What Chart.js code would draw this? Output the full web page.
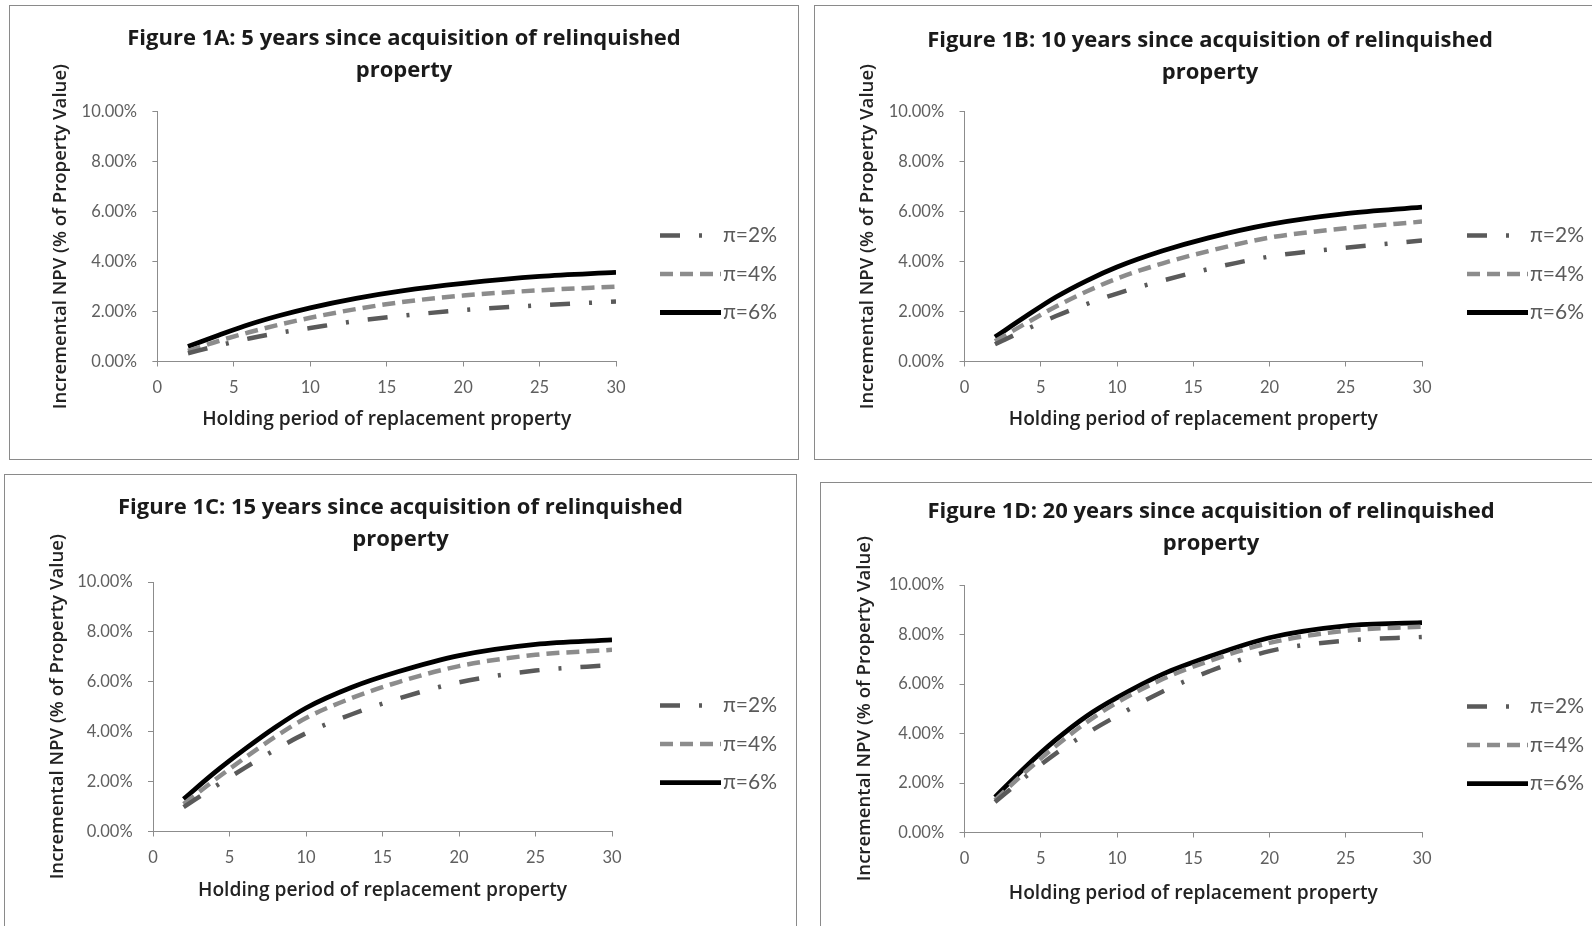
<!DOCTYPE html>
<html>
<head>
<meta charset="utf-8">
<script src="https://cdn.jsdelivr.net/npm/chart.js@4.4.1/dist/chart.umd.min.js"></script>
<style>
  html, body { margin:0; padding:0; background:#fff; width:1592px; height:926px; overflow:hidden; }
  .panel { position:absolute; border:1px solid #8a8a8a; box-sizing:border-box; background:#fff; }
  .panel canvas { position:absolute; left:0; top:0; }
</style>
</head>
<body>
<div id="pA" class="panel"><canvas id="cA"></canvas></div>
<div id="pB" class="panel"><canvas id="cB"></canvas></div>
<div id="pC" class="panel"><canvas id="cC"></canvas></div>
<div id="pD" class="panel"><canvas id="cD"></canvas></div>
<script>
// ---------- data ----------
const holdingYears = [2, 4, 6, 8, 10, 13, 16, 20, 25, 30];
const seriesLabels = ['\u03c0=2%', '\u03c0=4%', '\u03c0=6%'];
const panelTitles = [
  ['Figure 1A: 5 years since acquisition of relinquished', 'property'],
  ['Figure 1B: 10 years since acquisition of relinquished', 'property'],
  ['Figure 1C: 15 years since acquisition of relinquished', 'property'],
  ['Figure 1D: 20 years since acquisition of relinquished', 'property']
];
const xAxisTitle = 'Holding period of replacement property';
const yAxisTitle = 'Incremental NPV (% of Property Value)';

// values in % of property value
const npvA_pi2 = [0.33, 0.64, 0.92, 1.15, 1.34, 1.62, 1.83, 2.06, 2.25, 2.40];
const npvA_pi4 = [0.42, 0.82, 1.17, 1.48, 1.75, 2.10, 2.38, 2.64, 2.85, 3.00];
const npvA_pi6 = [0.60, 1.05, 1.48, 1.84, 2.15, 2.53, 2.83, 3.13, 3.41, 3.57];

const npvB_pi2 = [0.69, 1.27, 1.82, 2.30, 2.72, 3.24, 3.70, 4.20, 4.55, 4.84];
const npvB_pi4 = [0.81, 1.52, 2.20, 2.80, 3.32, 3.93, 4.42, 4.96, 5.33, 5.60];
const npvB_pi6 = [0.98, 1.80, 2.58, 3.23, 3.78, 4.43, 4.95, 5.49, 5.92, 6.18];

const npvC_pi2 = [0.98, 1.78, 2.55, 3.28, 3.94, 4.70, 5.32, 5.98, 6.45, 6.67];
const npvC_pi4 = [1.10, 2.05, 2.95, 3.80, 4.55, 5.35, 5.98, 6.63, 7.08, 7.28];
const npvC_pi6 = [1.30, 2.35, 3.30, 4.18, 4.95, 5.78, 6.40, 7.05, 7.50, 7.68];

const npvD_pi2 = [1.23, 2.25, 3.20, 4.00, 4.71, 5.70, 6.50, 7.33, 7.75, 7.90];
const npvD_pi4 = [1.31, 2.45, 3.50, 4.45, 5.25, 6.20, 6.92, 7.66, 8.15, 8.32];
const npvD_pi6 = [1.43, 2.65, 3.75, 4.70, 5.45, 6.40, 7.10, 7.87, 8.35, 8.48];

const panelSeries = [
  [npvA_pi2, npvA_pi4, npvA_pi6],
  [npvB_pi2, npvB_pi4, npvB_pi6],
  [npvC_pi2, npvC_pi4, npvC_pi6],
  [npvD_pi2, npvD_pi4, npvD_pi6]
];

// ---------- layout / style ----------
const panels = [
  {div:'pA', cv:'cA', left:9,   top:5,   w:790, h:455, axL:148.4, axR:607, axT:106.7, axB:356.5, t1:33.6, yTitleX:52, xTitleOff:58.5, legX:651, legY:230.5},
  {div:'pB', cv:'cB', left:814, top:5,   w:792, h:455, axL:150.5, axR:608, axT:106.7, axB:356.5, t1:35.6, yTitleX:54, xTitleOff:58.5, legX:653, legY:230.5},
  {div:'pC', cv:'cC', left:4,   top:474, w:793, h:470, axL:149,   axR:608, axT:108,   axB:357.5, t1:34,   yTitleX:54, xTitleOff:59.5, legX:656, legY:231.6},
  {div:'pD', cv:'cD', left:820, top:482, w:782, h:460, axL:144.5, axR:602, axT:103,   axB:350.5, t1:30,   yTitleX:45, xTitleOff:61,   legX:647, legY:224.6}
];

const lineStyles = [
  {color:'#5a5a5a', dash:[20, 19, 3, 19], width:4.5},
  {color:'#8c8c8c', dash:[13, 7],          width:4.5},
  {color:'#000000', dash:[],               width:4.8}
];

const TITLE_LH = 32;
const TITLE_SIZE = 22;
const LEG_FS = 21;
const LEG_PAD = 17.5;
const LEG_LINE_W = 61;
const LEG_TEXT_RIGHT = 117;
const XSCALE_H = 70;
const TICK_FS = 16.5;
const XT_FS = 19.2;
const YT_FS = 18.6;

const boxPlacer = {
  id: 'boxPlacer',
  afterLayout(chart, args, opts) {
    const lg = chart.legend;
    if (lg) {
      const h = Math.max(lg.height, 200);
      lg.left = opts.x - LEG_PAD;
      lg.right = opts.x + LEG_TEXT_RIGHT;
      lg.width = lg.right - lg.left;
      lg.top = opts.y - LEG_PAD - LEG_FS / 2;
      lg.bottom = lg.top + h;
      lg.height = h;
    }
    const tb = chart.titleBlock;
    if (tb) {
      tb.left = 0;
      tb.right = chart.width;
      tb.width = chart.width;
    }
  }
};

panels.forEach((p, idx) => {
  const div = document.getElementById(p.div);
  div.style.left = p.left + 'px';
  div.style.top = p.top + 'px';
  div.style.width = p.w + 'px';
  div.style.height = p.h + 'px';
  const cv = document.getElementById(p.cv);
  const iw = p.w - 2, ih = p.h - 2;
  cv.width = iw; cv.height = ih;
  cv.style.width = iw + 'px'; cv.style.height = ih + 'px';

  const axL = p.axL - 1, axR = p.axR - 1, axT = p.axT - 1, axB = p.axB - 1;
  const t1 = p.t1 - 1;
  const titlePadTop = t1 - TITLE_LH / 2;
  const titlePadBottom = axT - titlePadTop - 2 * TITLE_LH;
  const bottomPad = ih - axB - XSCALE_H;
  const rightPad = iw - axR;
  const yTitleLH = YT_FS * 1.2;
  const xTitleLH = XT_FS * 1.2;

  const datasets = panelSeries[idx].map((vals, k) => ({
    label: seriesLabels[k],
    data: holdingYears.map((x, i) => ({x: x, y: vals[i]})),
    borderColor: lineStyles[k].color,
    backgroundColor: lineStyles[k].color,
    borderWidth: lineStyles[k].width,
    borderDash: lineStyles[k].dash,
    pointRadius: 0,
    pointHoverRadius: 0,
    fill: false,
    cubicInterpolationMode: 'monotone'
  }));

  new Chart(cv, {
    type: 'line',
    data: { datasets },
    plugins: [boxPlacer],
    options: {
      responsive: false,
      animation: false,
      devicePixelRatio: 1,
      layout: { padding: { left: 0, top: 0, right: rightPad, bottom: bottomPad } },
      plugins: {
        boxPlacer: { x: p.legX - 1, y: p.legY - 1 },
        tooltip: { enabled: false },
        title: {
          display: true,
          text: panelTitles[idx],
          color: '#1a1a1a',
          font: { family: 'Open Sans', size: TITLE_SIZE, weight: 'bold', lineHeight: TITLE_LH / TITLE_SIZE },
          padding: { top: titlePadTop, bottom: titlePadBottom }
        },
        legend: {
          display: true,
          position: 'chartArea',
          align: 'start',
          labels: {
            usePointStyle: true,
            pointStyle: 'line',
            pointStyleWidth: LEG_LINE_W,
            boxHeight: 4,
            padding: LEG_PAD,
            color: '#5a5a5a',
            textAlign: 'right',
            font: { family: 'Lato', size: LEG_FS },
            generateLabels: chart => {
              const items = Chart.defaults.plugins.legend.labels.generateLabels(chart);
              return items.map(it => {
                const ds = chart.data.datasets[it.datasetIndex];
                it.lineDash = ds.borderDash;
                it.lineWidth = ds.borderWidth;
                it.strokeStyle = ds.borderColor;
                it.lineCap = 'butt';
                it.textAlign = 'right';
                return it;
              });
            }
          }
        }
      },
      scales: {
        x: {
          type: 'linear',
          min: 0, max: 30,
          afterFit: s => { s.height = XSCALE_H; },
          ticks: { stepSize: 5, color: '#5f5f5f', padding: 26.5 - 5 - TICK_FS * 0.6, font: { family: 'Lato', size: TICK_FS } },
          grid: { display: true, drawOnChartArea: false, drawTicks: true, tickLength: 5, color: '#8c8c8c', lineWidth: 1 },
          border: { display: true, color: '#8c8c8c', width: 1 },
          title: {
            display: true,
            text: xAxisTitle,
            color: '#222222',
            font: { family: 'Open Sans', size: XT_FS, weight: '600' },
            padding: { top: 0, bottom: XSCALE_H - p.xTitleOff - xTitleLH / 2 }
          }
        },
        y: {
          type: 'linear',
          min: 0, max: 10,
          afterFit: s => { s.width = axL; },
          ticks: {
            stepSize: 2,
            color: '#5f5f5f',
            padding: 20.4 - 5,
            font: { family: 'Lato', size: TICK_FS },
            callback: v => v.toFixed(2) + '%'
          },
          grid: { display: true, drawOnChartArea: false, drawTicks: true, tickLength: 5, color: '#8c8c8c', lineWidth: 1 },
          border: { display: true, color: '#8c8c8c', width: 1 },
          title: {
            display: true,
            text: yAxisTitle,
            color: '#222222',
            font: { family: 'Open Sans', size: YT_FS, weight: '600' },
            padding: { top: (p.yTitleX - 1) - yTitleLH / 2, bottom: 0 }
          }
        }
      }
    }
  });
});
</script>
</body>
</html>
